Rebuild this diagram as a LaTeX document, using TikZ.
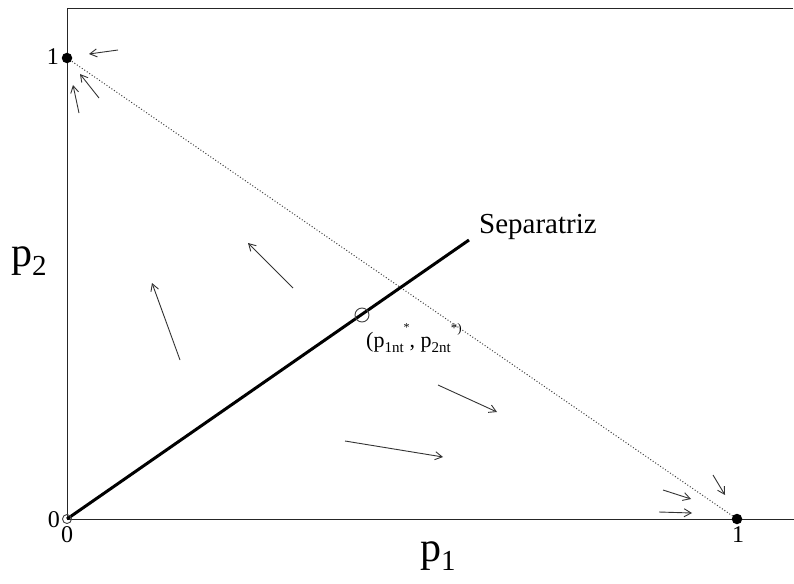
\documentclass[tikz,border=0pt]{standalone}
\usepackage{fontspec}
\setmainfont{Liberation Serif}
\usetikzlibrary{arrows.meta}
\begin{document}
\begin{tikzpicture}[x=1pt,y=-1pt,
  axisline/.style={line width=0.9pt,black!85},
  sepline/.style={line width=3pt,black},
  budget/.style={line width=1pt,black!75,dash pattern=on 1pt off 2pt},
  flow/.style={line width=0.9pt,black!80,-{Straight Barb[length=7pt,width=8pt]}},
  fulldot/.style={circle,fill=black,inner sep=0pt,minimum size=10.5pt},
  opendot/.style={circle,draw=black!75,line width=0.9pt,inner sep=0pt},
  ticklab/.style={inner sep=0pt,font=\fontsize{24}{24}\selectfont},
  axlab/.style={inner sep=0pt,anchor=base west,font=\fontsize{42}{42}\selectfont}
]
\useasboundingbox (0,0) rectangle (794,583);
% frame
\coordinate (tl) at (67,8);
\coordinate (tr) at (793,8);
\coordinate (bl) at (67,519);
\coordinate (br) at (794,519);
\draw[axisline] (tr) -- (tl) -- (bl) -- (br);
% key points
\coordinate (p01) at (67,58);
\coordinate (p10) at (737,519);
\coordinate (sepend) at (469,240);
\draw[budget] (p01) -- (p10);
\draw[sepline] (bl) -- (sepend);
\node[fulldot] (d01) at (p01) {};
\node[fulldot] (d10) at (p10) {};
\node[opendot,minimum size=9pt] (orig) at (bl) {};
\node[opendot,minimum size=14pt] (eq) at (362,315) {};
% labels
\node[ticklab,anchor=east] (l1y) at (59,57) {1};
\node[ticklab,anchor=east] (l0y) at (60,520) {0};
\node[ticklab,anchor=north] (l0x) at (67,526) {0};
\node[ticklab,anchor=north] (l1x) at (738,526) {1};
\node[axlab] (p2lab) at (11,266) {p\raisebox{-9pt}{\fontsize{29}{29}\selectfont 2}};
\node[axlab] (p1lab) at (420,561) {p\raisebox{-9pt}{\fontsize{29}{29}\selectfont 1}};
\node[inner sep=0pt,anchor=base west,font=\fontsize{29}{29}\selectfont] (seplab) at (479,233) {Separatriz};
\node[inner sep=0pt,anchor=base west,font=\fontsize{22}{22}\selectfont] (eqlab) at (366,347)
  {(p{\fontsize{15}{15}\selectfont\raisebox{-5pt}{1nt}}\raisebox{16pt}{\fontsize{12}{12}\selectfont *}, p{\fontsize{15}{15}\selectfont\raisebox{-5pt}{2nt}}\raisebox{15pt}{\fontsize{13}{13}\selectfont *)}};
% flow arrows
\coordinate (a1t) at (118,50); \coordinate (a1h) at (89,54);
\coordinate (a2t) at (99,98);  \coordinate (a2h) at (80,74);
\coordinate (a3t) at (79,113); \coordinate (a3h) at (73,85);
\coordinate (a4t) at (180,360); \coordinate (a4h) at (152,283);
\coordinate (a5t) at (293,288); \coordinate (a5h) at (248,243);
\coordinate (a6t) at (438,385); \coordinate (a6h) at (497,412);
\coordinate (a7t) at (345,441); \coordinate (a7h) at (443,457);
\coordinate (a8t) at (663,490); \coordinate (a8h) at (691,499);
\coordinate (a9t) at (659,512); \coordinate (a9h) at (692,513);
\coordinate (a10t) at (713,475); \coordinate (a10h) at (725,495);
\foreach \i in {1,...,10} \draw[flow] (a\i t) -- (a\i h);
\end{tikzpicture}
\end{document}
